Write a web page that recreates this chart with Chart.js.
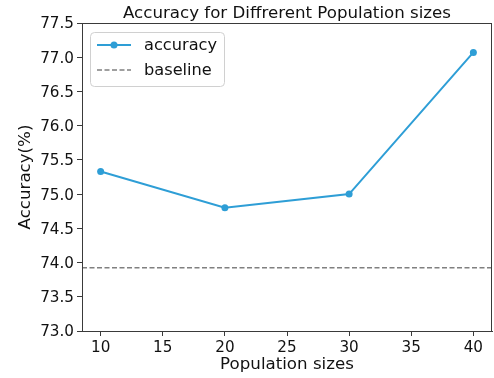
<!DOCTYPE html>
<html>
<head>
<meta charset="utf-8">
<script src="https://cdn.jsdelivr.net/npm/chart.js@4.4.1/dist/chart.umd.min.js"></script>
<style>
  html, body { margin: 0; padding: 0; background: #fff; }
  #wrap { width: 494px; height: 378px; }
</style>
</head>
<body>
<div id="wrap"><canvas id="chart" width="494" height="378"></canvas></div>
<script>
/* ---------- data ---------- */
const populationSizes = [10, 20, 30, 40];
const accuracyValues = [75.33, 74.80, 75.00, 77.07];
const baselineValue = 73.925;
const xTicks = [10, 15, 20, 25, 30, 35, 40];
const yTicks = [73.0, 73.5, 74.0, 74.5, 75.0, 75.5, 76.0, 76.5, 77.0, 77.5];
const xMin = 8.5, xMax = 41.5;
const yMin = 73.0, yMax = 77.5;

const FONT = "'DejaVu Sans', sans-serif";
const FS = 16.67;      // title, axis labels
const TICK_FS = 15.2;  // tick labels
const LEG_FS = 16.2;   // legend
const lineColor = "#2e9ed6";
const baseColor = "#808080";
const axisColor = "#3a3a3a";

/* ---------- frame, title and legend ---------- */
const framePlugin = {
    id: "frame",
    afterDraw(chart) {
        const { ctx, chartArea: a } = chart;
        ctx.save();
        ctx.strokeStyle = axisColor;
        ctx.lineWidth = 1;
        ctx.strokeRect(a.left + 0.5, a.top + 0.5, a.right - a.left - 1, a.bottom - a.top);

        // title centred over plot area
        ctx.fillStyle = "#111";
        ctx.font = `${FS}px ${FONT}`;
        ctx.textAlign = "center";
        ctx.textBaseline = "alphabetic";
        ctx.fillText("Accuracy for Diffrerent Population sizes", (a.left + a.right) / 2, 18);

        // legend
        const bx = 90, by = 32, bw = 134, bh = 54, r = 4;
        ctx.fillStyle = "rgba(255,255,255,0.8)";
        ctx.strokeStyle = "#d0d0d0";
        ctx.beginPath();
        ctx.roundRect(bx + 0.5, by + 0.5, bw, bh, r);
        ctx.fill();
        ctx.stroke();

        const rows = [45, 70];
        ctx.font = `${LEG_FS}px ${FONT}`;
        chart.data.datasets.forEach((ds, i) => {
            const y = rows[i];
            ctx.beginPath();
            ctx.strokeStyle = ds.borderColor;
            ctx.lineWidth = ds.borderWidth;
            ctx.setLineDash(ds.borderDash || []);
            ctx.moveTo(97, y);
            ctx.lineTo(131, y);
            ctx.stroke();
            ctx.setLineDash([]);
            if (ds.pointRadius > 0) {
                ctx.beginPath();
                ctx.fillStyle = ds.pointBackgroundColor;
                ctx.arc(114, y, ds.pointRadius, 0, Math.PI * 2);
                ctx.fill();
            }
            ctx.fillStyle = "#111";
            ctx.textAlign = "left";
            ctx.textBaseline = "middle";
            ctx.fillText(ds.label, 144, y + 1);
        });
        ctx.restore();
    }
};

/* ---------- chart ---------- */
new Chart(document.getElementById("chart"), {
    type: "scatter",
    data: {
        datasets: [{
            label: "accuracy",
            data: populationSizes.map((x, i) => ({ x, y: accuracyValues[i] })),
            showLine: true,
            borderColor: lineColor,
            backgroundColor: lineColor,
            pointBackgroundColor: lineColor,
            pointBorderWidth: 0,
            borderWidth: 2,
            pointRadius: 3.5
        }, {
            label: "baseline",
            data: [{ x: xMin, y: baselineValue }, { x: xMax, y: baselineValue }],
            showLine: true,
            borderColor: baseColor,
            borderWidth: 1.4,
            borderDash: [5, 2.5],
            pointRadius: 0
        }]
    },
    options: {
        responsive: false,
        animation: false,
        layout: { autoPadding: false, padding: { top: 23, right: 2, left: 0, bottom: 0 } },
        plugins: {
            legend: { display: false },
            tooltip: { enabled: false },
            title: { display: false }
        },
        scales: {
            x: {
                type: "linear",
                min: xMin,
                max: xMax,
                afterBuildTicks: s => { s.ticks = xTicks.map(v => ({ value: v })); },
                afterFit: s => { s.height = 47; s.paddingLeft = 0; s.paddingRight = 0; },
                ticks: {
                    color: "#111",
                    font: { family: FONT, size: TICK_FS },
                    padding: 3,
                    maxRotation: 0,
                    autoSkip: false
                },
                grid: { drawOnChartArea: false, drawTicks: true, tickLength: 5, color: axisColor },
                border: { display: true, color: axisColor },
                title: {
                    display: true,
                    text: "Population sizes",
                    color: "#111",
                    font: { family: FONT, size: FS, lineHeight: 1.2 },
                    padding: { top: 0, bottom: 3 }
                }
            },
            y: {
                min: yMin,
                max: yMax,
                afterBuildTicks: s => { s.ticks = yTicks.map(v => ({ value: v })); },
                afterFit: s => { s.width = 82; s.paddingTop = 0; s.paddingBottom = 0; },
                ticks: {
                    color: "#111",
                    font: { family: FONT, size: TICK_FS },
                    padding: 3,
                    labelOffset: 1.5,
                    autoSkip: false,
                    callback: v => v.toFixed(1)
                },
                grid: { drawOnChartArea: false, drawTicks: true, tickLength: 5, color: axisColor },
                border: { display: true, color: axisColor },
                title: {
                    display: true,
                    text: "Accuracy(%)",
                    color: "#111",
                    font: { family: FONT, size: FS, lineHeight: 1.2 },
                    padding: { top: 16, bottom: 0 }
                }
            }
        }
    },
    plugins: [framePlugin]
});
</script>
</body>
</html>
